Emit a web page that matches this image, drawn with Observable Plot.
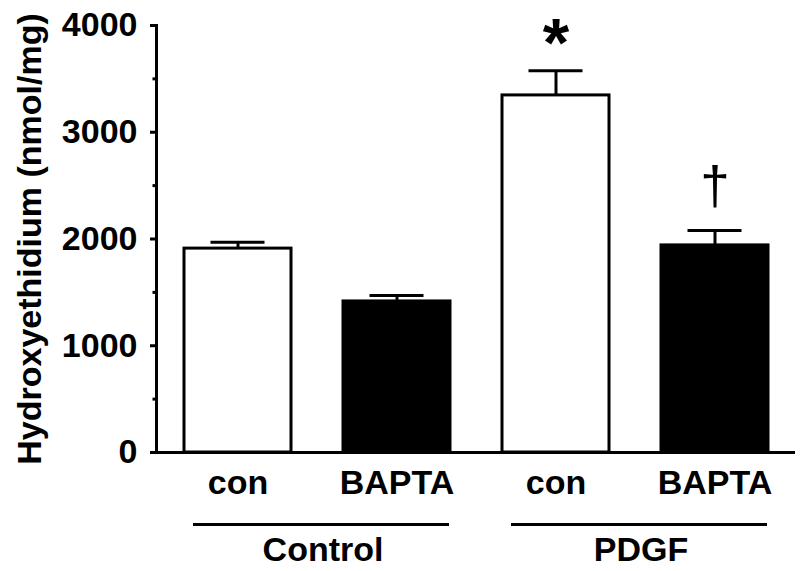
<!DOCTYPE html>
<html><head><meta charset="utf-8">
<script src="https://cdn.jsdelivr.net/npm/d3@7"></script>
<script src="https://cdn.jsdelivr.net/npm/@observablehq/plot@0.6"></script>
<style>body{margin:0;background:#fff} svg{display:block}</style>
</head><body><div id="chart"></div>
<script>
const groups = ["Control", "Control", "PDGF", "PDGF"];
const conditions = ["con", "BAPTA", "con", "BAPTA"];
const means = [1910, 1415, 3345, 1940];
const sem = [60, 55, 230, 140];
const significance = ["", "", "*", "†"];
const yTicks = [0, 1000, 2000, 3000, 4000];
const yMinorTicks = [500, 1500, 2500, 3500];
const groupNames = ["Control", "PDGF"];
const yLabel = "Hydroxyethidium (nmol/mg)";

const data = groups.map((g, i) => ({
  key: g + "|" + conditions[i],
  group: g,
  condition: conditions[i],
  mean: means[i],
  upper: means[i] + sem[i],
  sig: significance[i]
}));
const groupData = groupNames.map(g => {
  const m = data.filter(d => d.group === g);
  return {group: g, first: m[0].key, last: m[m.length - 1].key};
});

const font = "'Liberation Sans', Arial, Helvetica, sans-serif";

const chart = Plot.plot({
  width: 800,
  height: 571,
  marginLeft: 156,
  marginRight: 5,
  marginTop: 25,
  marginBottom: 119,
  style: {fontFamily: font, fontWeight: "bold", color: "black", background: "white"},
  x: {domain: data.map(d => d.key), paddingInner: 0.33, paddingOuter: 0.1625},
  y: {domain: [0, 4000]},
  marks: [
    Plot.barY(data, {
      x: "key", y: "mean",
      fill: d => d.condition === "con" ? "white" : "black",
      stroke: "black", strokeWidth: 3
    }),
    Plot.ruleX(data, {x: "key", y1: "mean", y2: "upper", stroke: "black", strokeWidth: 3}),
    Plot.tickY(data, {x: "key", y: "upper", stroke: "black", strokeWidth: 3, insetLeft: 26.5, insetRight: 26.5}),
    Plot.text(data.filter(d => d.sig === "*"), {
      x: "key", y: "upper", text: "sig", fontSize: 68, fontWeight: "bold",
      lineAnchor: "middle", dy: -27, fontFamily: font
    }),
    Plot.text(data.filter(d => d.sig === "†"), {
      x: "key", y: "upper", text: "sig", fontSize: 53, fontWeight: "normal",
      lineAnchor: "middle", dy: -43, fontFamily: font
    }),
    Plot.frame({anchor: "left", strokeWidth: 3}),
    Plot.ruleY([0], {strokeWidth: 3}),
    Plot.axisY({
      ticks: yTicks, tickSize: 6, tickPadding: 13, strokeWidth: 3,
      tickFormat: d => String(d),
      fontSize: 34, fontWeight: "bold",
      label: yLabel, labelAnchor: "center", labelOffset: 140, labelArrow: "none"
    }),
    Plot.axisY({ticks: yMinorTicks, tickSize: 3.5, strokeWidth: 3, text: null, label: null}),
    Plot.axisX({
      tickSize: 0, tickPadding: 17, fontSize: 34, fontWeight: "bold",
      tickFormat: d => d.split("|")[1], label: null
    }),
    Plot.ruleY(groupData, {y: 0, x1: "first", x2: "last", dy: 72, insetLeft: 9, insetRight: 1, strokeWidth: 3}),
    Plot.text(groupData, {
      x: "first", y: 0, text: "group", dx: 85, dy: 98, fontSize: 34, fontWeight: "bold",
      lineAnchor: "middle", fontFamily: font
    })
  ]
});
document.getElementById("chart").appendChild(chart);
</script>
</body></html>
